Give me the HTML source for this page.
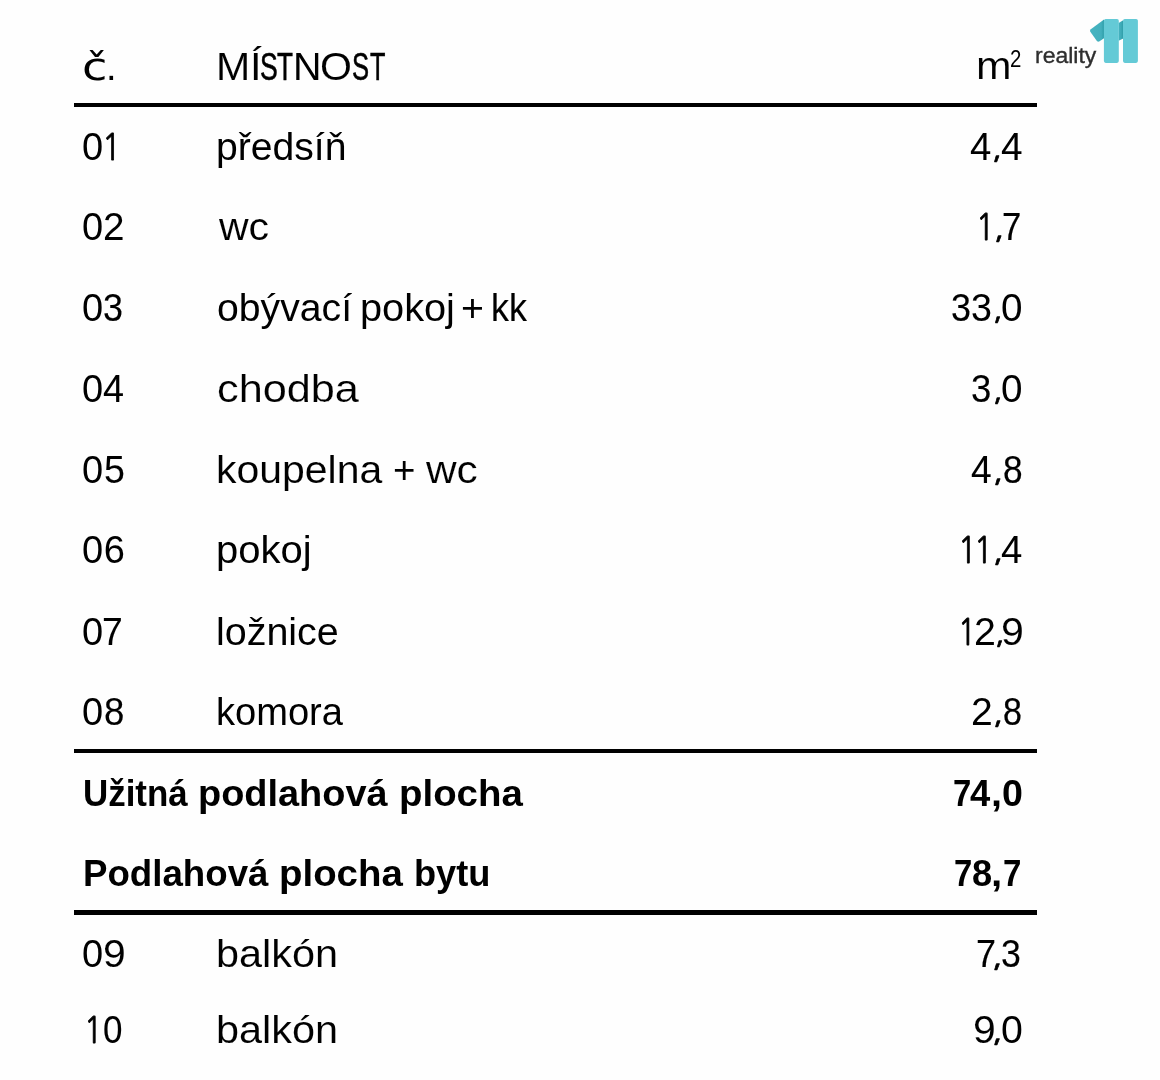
<!DOCTYPE html>
<html lang="cs"><head><meta charset="utf-8"><title>Místnosti</title>
<style>
html,body{margin:0;padding:0;background:#fefefe;}
body{width:1160px;height:1080px;position:relative;overflow:hidden;}
#pg{position:absolute;left:0;top:0;width:1160px;height:1080px;will-change:transform;}
span{position:absolute;white-space:nowrap;line-height:1;color:#000;font-family:"Liberation Sans",sans-serif;transform-origin:0 0;}
.r{font-size:38.0px;}
.dj{font-family:'DejaVu Sans',sans-serif;font-size:36.5px;}
.rh{font-size:38.0px;}
.b{font-size:36.0px;font-weight:bold;-webkit-text-stroke:0px #000;}
.n1{font-family:NanumGothic,'Liberation Sans',sans-serif;font-size:35.6px;-webkit-text-stroke:0.8px #000;}
.sup{font-size:22.0px;}
.logo{font-size:21.5px;color:#2e2e2e;-webkit-text-stroke:0.35px #2e2e2e;}
.hr{position:absolute;left:73.8px;width:962.8px;height:4px;background:#000;}
</style></head><body><div id="pg">
<span class="dj" style="left:81.96px;top:50.00px;transform:scaleX(1.2687);">č</span>
<span class="r" style="left:106.00px;top:48.00px;transform:scaleX(1.0000);">.</span>
<span class="r" style="left:975.93px;top:47.40px;transform:scaleX(1.1231);-webkit-text-stroke:0.13px #fefefe;">m</span>
<span class="rh" style="left:216.36px;top:47.60px;transform:scaleX(1.0808);-webkit-text-stroke:0.07px #fefefe;">M</span>
<span class="rh" style="left:249.50px;top:47.60px;transform:scaleX(1.1000);-webkit-text-stroke:0.10px #fefefe;">Í</span>
<span class="rh" style="left:260.30px;top:47.60px;transform:scaleX(0.7000);-webkit-text-stroke:0.60px #000;">S</span>
<span class="rh" style="left:277.41px;top:47.60px;transform:scaleX(0.6864);-webkit-text-stroke:0.60px #000;">T</span>
<span class="rh" style="left:292.99px;top:47.60px;transform:scaleX(1.0381);">N</span>
<span class="rh" style="left:320.14px;top:47.60px;transform:scaleX(1.0808);-webkit-text-stroke:0.07px #fefefe;">O</span>
<span class="rh" style="left:351.93px;top:47.60px;transform:scaleX(0.6739);-webkit-text-stroke:0.60px #000;">S</span>
<span class="rh" style="left:369.64px;top:47.60px;transform:scaleX(0.6636);-webkit-text-stroke:0.60px #000;">T</span>
<span class="r" style="left:82.00px;top:128.00px;transform:scaleX(1.0000);">0</span>
<span class="n1" style="left:101.66px;top:130.22px;transform:scale(0.8889,0.9926);">1</span>
<span class="r" style="left:82.00px;top:208.10px;transform:scaleX(1.0000);">0</span>
<span class="r" style="left:102.86px;top:208.10px;transform:scaleX(1.0176);">2</span>
<span class="r" style="left:82.00px;top:289.20px;transform:scaleX(1.0000);">0</span>
<span class="r" style="left:103.31px;top:289.20px;transform:scaleX(0.9444);-webkit-text-stroke:0.15px #000;">3</span>
<span class="r" style="left:82.00px;top:370.20px;transform:scaleX(1.0000);">0</span>
<span class="r" style="left:103.11px;top:370.20px;transform:scaleX(0.9947);-webkit-text-stroke:0.06px #000;">4</span>
<span class="r" style="left:82.00px;top:451.00px;transform:scaleX(1.0000);">0</span>
<span class="r" style="left:103.82px;top:451.00px;transform:scaleX(0.9889);-webkit-text-stroke:0.07px #000;">5</span>
<span class="r" style="left:82.00px;top:531.20px;transform:scaleX(1.0000);">0</span>
<span class="r" style="left:103.80px;top:531.20px;transform:scaleX(1.0000);">6</span>
<span class="r" style="left:82.00px;top:612.70px;transform:scaleX(1.0000);">0</span>
<span class="r" style="left:102.14px;top:612.70px;transform:scaleX(0.9824);-webkit-text-stroke:0.08px #000;">7</span>
<span class="r" style="left:82.00px;top:692.70px;transform:scaleX(1.0000);">0</span>
<span class="r" style="left:104.38px;top:692.70px;transform:scaleX(0.9611);-webkit-text-stroke:0.12px #000;">8</span>
<span class="r" style="left:82.00px;top:935.40px;transform:scaleX(1.0000);">0</span>
<span class="r" style="left:102.55px;top:935.40px;transform:scaleX(1.0765);-webkit-text-stroke:0.07px #fefefe;">9</span>
<span class="n1" style="left:84.32px;top:1013.22px;transform:scale(0.8556,0.9926);">1</span>
<span class="r" style="left:103.18px;top:1011.00px;transform:scaleX(0.9211);-webkit-text-stroke:0.10px #000;">0</span>
<span class="r" style="left:216.11px;top:128.00px;transform:scaleX(1.0289);">předsíň</span>
<span class="r" style="left:219.20px;top:208.10px;transform:scaleX(1.0778);-webkit-text-stroke:0.07px #fefefe;">wc</span>
<span class="r" style="left:216.94px;top:289.20px;transform:scaleX(1.0310);">obývací</span>
<span class="r" style="left:360.47px;top:289.20px;transform:scaleX(1.0447);">pokoj</span>
<span class="r" style="left:461.03px;top:289.20px;transform:scaleX(1.0333);">+</span>
<span class="r" style="left:490.57px;top:289.20px;transform:scaleX(0.9429);-webkit-text-stroke:0.15px #000;">kk</span>
<span class="r" style="left:216.92px;top:370.20px;transform:scaleX(1.1382);-webkit-text-stroke:0.15px #fefefe;">chodba</span>
<span class="r" style="left:215.97px;top:451.00px;transform:scaleX(1.0775);-webkit-text-stroke:0.07px #fefefe;">koupelna</span>
<span class="r" style="left:392.58px;top:451.00px;transform:scaleX(1.0111);">+</span>
<span class="r" style="left:426.00px;top:451.00px;transform:scaleX(1.1156);-webkit-text-stroke:0.12px #fefefe;">wc</span>
<span class="r" style="left:216.04px;top:531.20px;transform:scaleX(1.0518);">pokoj</span>
<span class="r" style="left:216.09px;top:612.70px;transform:scaleX(1.0377);">ložnice</span>
<span class="r" style="left:216.20px;top:692.70px;transform:scaleX(1.0016);">komora</span>
<span class="b" style="left:83.26px;top:775.70px;transform:scaleX(0.9698);">Užitná</span>
<span class="b" style="left:198.39px;top:775.70px;transform:scaleX(1.0534);">podlahová</span>
<span class="b" style="left:398.57px;top:775.70px;transform:scaleX(1.0667);">plocha</span>
<span class="b" style="left:83.26px;top:855.60px;transform:scaleX(1.0189);">Podlahová</span>
<span class="b" style="left:278.77px;top:855.60px;transform:scaleX(1.0667);">plocha</span>
<span class="b" style="left:413.69px;top:855.60px;transform:scaleX(1.0056);">bytu</span>
<span class="r" style="left:216.23px;top:935.40px;transform:scaleX(1.0896);-webkit-text-stroke:0.07px #fefefe;">balkón</span>
<span class="r" style="left:216.23px;top:1011.00px;transform:scaleX(1.0896);-webkit-text-stroke:0.07px #fefefe;">balkón</span>
<span class="r" style="left:970.09px;top:128.00px;transform:scaleX(1.0105);">4</span>
<span class="n1" style="left:992.07px;top:131.25px;transform:scale(0.9167,0.8625);">,</span>
<span class="r" style="left:1000.68px;top:128.00px;transform:scaleX(1.0211);">4</span>
<span class="n1" style="left:976.32px;top:210.32px;transform:scale(0.8556,0.9926);">1</span>
<span class="n1" style="left:994.23px;top:211.35px;transform:scale(0.9333,0.8625);">,</span>
<span class="r" style="left:1002.08px;top:208.10px;transform:scaleX(0.9118);-webkit-text-stroke:0.21px #000;">7</span>
<span class="r" style="left:951.41px;top:289.20px;transform:scaleX(0.9444);-webkit-text-stroke:0.15px #000;">3</span>
<span class="r" style="left:970.82px;top:289.20px;transform:scaleX(0.9889);-webkit-text-stroke:0.07px #000;">3</span>
<span class="n1" style="left:992.63px;top:292.45px;transform:scale(0.8833,0.8625);">,</span>
<span class="r" style="left:1000.77px;top:289.20px;transform:scaleX(1.0167);">0</span>
<span class="r" style="left:971.38px;top:370.20px;transform:scaleX(0.9611);-webkit-text-stroke:0.12px #000;">3</span>
<span class="n1" style="left:992.63px;top:373.45px;transform:scale(0.8833,0.8625);">,</span>
<span class="r" style="left:1000.77px;top:370.20px;transform:scaleX(1.0167);">0</span>
<span class="r" style="left:971.22px;top:451.00px;transform:scaleX(0.9789);-webkit-text-stroke:0.09px #000;">4</span>
<span class="n1" style="left:993.13px;top:454.25px;transform:scale(0.9333,0.8625);">,</span>
<span class="r" style="left:1002.54px;top:451.00px;transform:scaleX(0.9278);-webkit-text-stroke:0.18px #000;">8</span>
<span class="n1" style="left:958.47px;top:533.42px;transform:scale(0.8667,0.9926);">1</span>
<span class="n1" style="left:973.97px;top:533.42px;transform:scale(0.8667,0.9926);">1</span>
<span class="n1" style="left:992.53px;top:534.45px;transform:scale(0.9333,0.8625);">,</span>
<span class="r" style="left:1001.19px;top:531.20px;transform:scaleX(1.0105);">4</span>
<span class="n1" style="left:957.53px;top:614.92px;transform:scale(0.8333,0.9926);">1</span>
<span class="r" style="left:974.03px;top:612.70px;transform:scaleX(1.0353);">2</span>
<span class="n1" style="left:995.43px;top:615.95px;transform:scale(0.8833,0.8625);">,</span>
<span class="r" style="left:1000.84px;top:612.70px;transform:scaleX(1.0824);-webkit-text-stroke:0.08px #fefefe;">9</span>
<span class="r" style="left:971.24px;top:692.70px;transform:scaleX(1.0294);">2</span>
<span class="n1" style="left:993.13px;top:695.95px;transform:scale(0.9333,0.8625);">,</span>
<span class="r" style="left:1003.21px;top:692.70px;transform:scaleX(0.8944);-webkit-text-stroke:0.24px #000;">8</span>
<span class="b" style="left:952.98px;top:775.70px;transform:scaleX(0.9118);">7</span>
<span class="b" style="left:970.09px;top:775.70px;transform:scaleX(1.0105);">4</span>
<span class="b" style="left:990.60px;top:775.70px;transform:scaleX(1.1000);">,</span>
<span class="b" style="left:1001.56px;top:775.70px;transform:scaleX(1.0444);">0</span>
<span class="b" style="left:953.78px;top:855.60px;transform:scaleX(0.9118);">7</span>
<span class="b" style="left:972.29px;top:855.60px;transform:scaleX(1.0056);">8</span>
<span class="b" style="left:991.04px;top:855.60px;transform:scaleX(1.1200);">,</span>
<span class="b" style="left:1002.56px;top:855.60px;transform:scaleX(0.9176);">7</span>
<span class="r" style="left:975.91px;top:935.40px;transform:scaleX(0.9471);-webkit-text-stroke:0.14px #000;">7</span>
<span class="n1" style="left:991.97px;top:938.65px;transform:scale(0.9667,0.8625);">,</span>
<span class="r" style="left:1000.92px;top:935.40px;transform:scaleX(0.9389);-webkit-text-stroke:0.16px #000;">3</span>
<span class="r" style="left:973.45px;top:1011.00px;transform:scaleX(1.0765);-webkit-text-stroke:0.07px #fefefe;">9</span>
<span class="n1" style="left:991.97px;top:1014.25px;transform:scale(0.9667,0.8625);">,</span>
<span class="r" style="left:1000.73px;top:1011.00px;transform:scaleX(1.0333);">0</span>
<span class="sup" style="left:1010.17px;top:48.30px;transform:scale(0.9300,1.0667);">2</span>
<div class="hr" style="top:103px;height:3.9px"></div>
<div class="hr" style="top:749px"></div>
<div class="hr" style="top:910.4px;height:4.2px"></div>
<span class="logo" style="left:1034.93px;top:45.90px;transform:scaleX(1.0679);">reality</span>
<svg style="position:absolute;left:0;top:0" width="1160" height="80" viewBox="0 0 1160 80">
<defs>
<linearGradient id="gf" x1="1089.5" y1="0" x2="1104" y2="0" gradientUnits="userSpaceOnUse"><stop offset="0" stop-color="#46b4c1"/><stop offset="0.8" stop-color="#43b0bd"/><stop offset="1" stop-color="#2f9ea9"/></linearGradient>
<linearGradient id="gc" x1="1118.8" y1="0" x2="1123" y2="0" gradientUnits="userSpaceOnUse"><stop offset="0" stop-color="#45b3c0"/><stop offset="0.55" stop-color="#3eaab7"/><stop offset="1" stop-color="#2f9ea9"/></linearGradient>
</defs>
<path d="M1104 19.4 L1090.8 29.3 Q1089.5 30.4 1090.3 31.8 L1096.9 41 Q1098.1 42.3 1099.6 41.3 L1104 38.2 Z" fill="url(#gf)"/>
<path d="M1118.6 22.9 L1123.2 20.3 L1123.2 38.4 L1118.6 40.7 Z" fill="url(#gc)"/>
<rect x="1103.9" y="19" width="14.9" height="43.9" rx="1.8" fill="#64cad6"/>
<rect x="1123" y="19" width="14.9" height="43.9" rx="1.8" fill="#64cad6"/>
</svg>
</div></body></html>
